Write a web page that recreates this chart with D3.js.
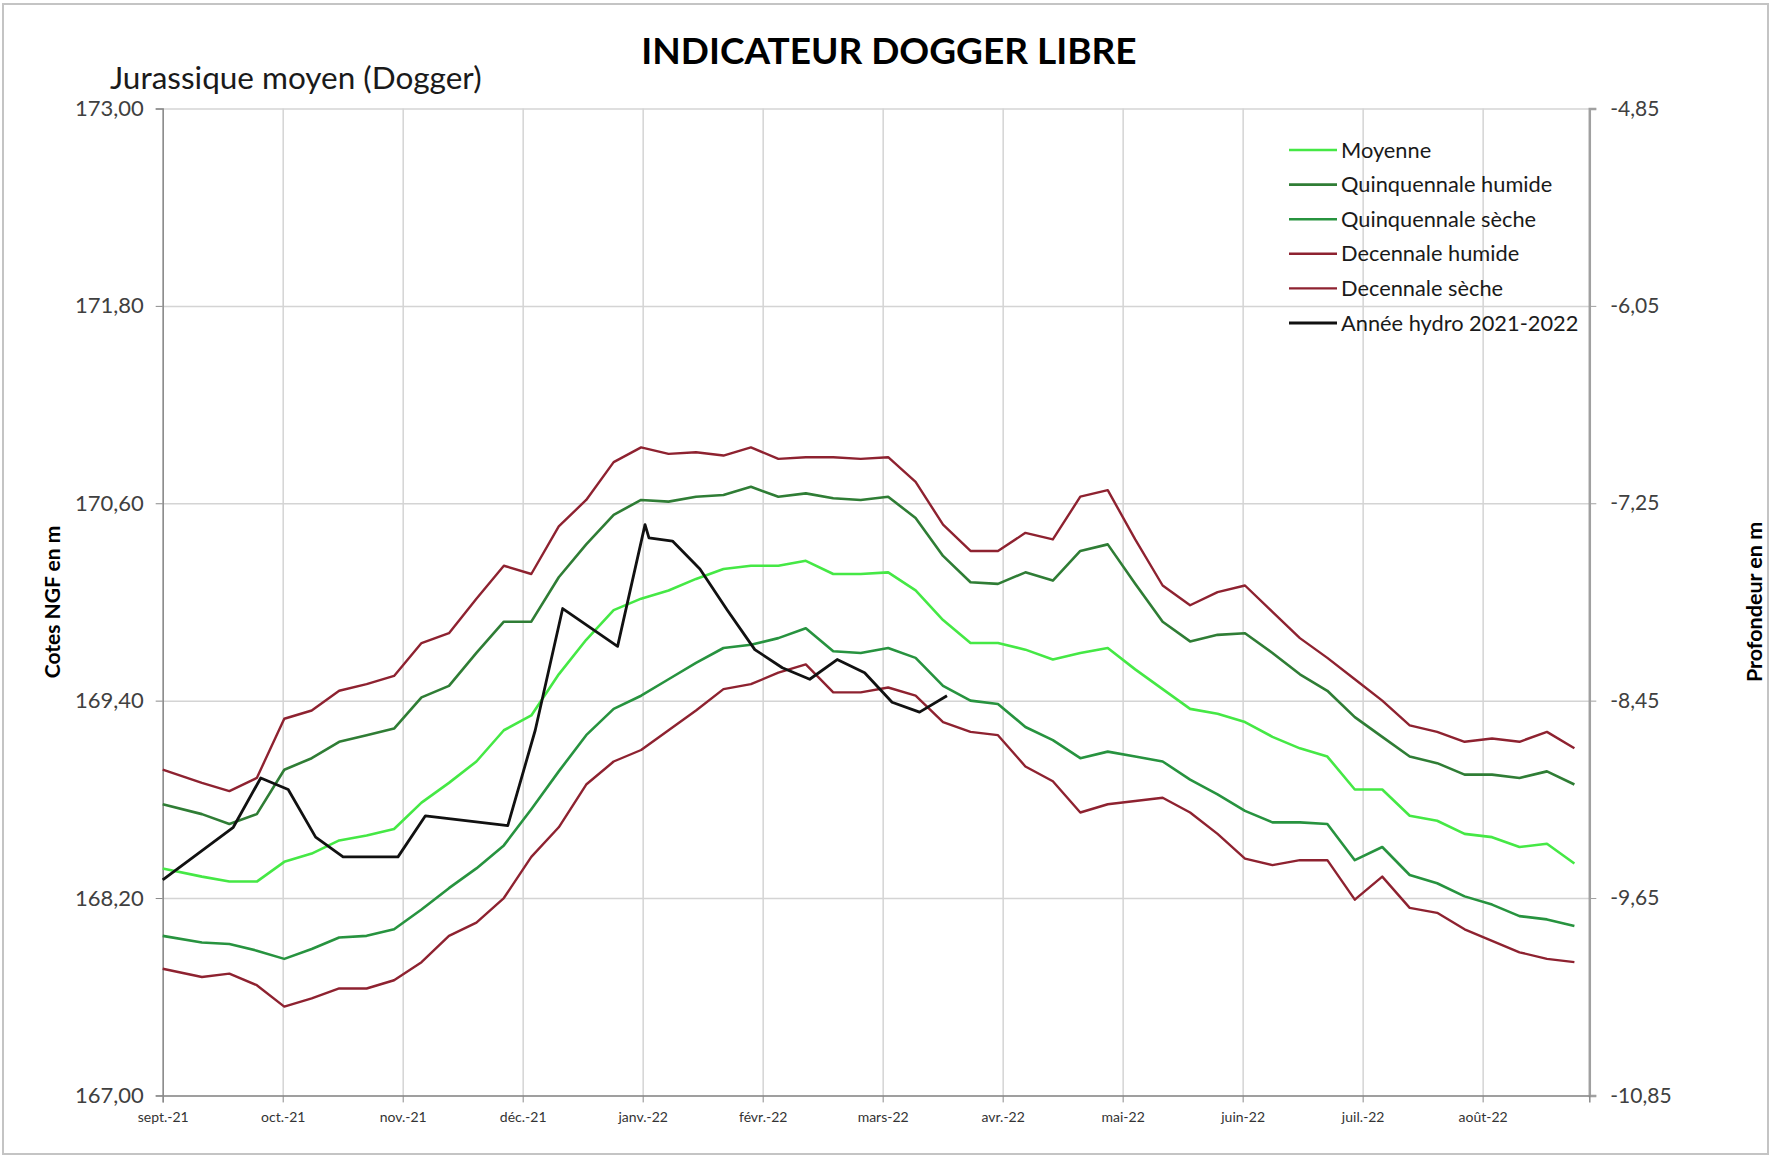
<!DOCTYPE html>
<html>
<head>
<meta charset="utf-8">
<script src="https://cdn.jsdelivr.net/npm/d3@7"></script>
<style>
  html, body { margin: 0; padding: 0; background: #ffffff; }
  svg { display: block; }
  text { font-family: Lato, "Open Sans", "DejaVu Sans", sans-serif; }
</style>
</head>
<body>
<svg id="chart" width="1771" height="1157"></svg>
<script>
// ---------- DATA ----------
const monthLabels = ["sept.-21", "oct.-21", "nov.-21", "déc.-21", "janv.-22", "févr.-22",
  "mars-22", "avr.-22", "mai-22", "juin-22", "juil.-22", "août-22"];
const leftTicks = [167.0, 168.2, 169.4, 170.6, 171.8, 173.0];
const rightTicks = [-10.85, -9.65, -8.45, -7.25, -6.05, -4.85];

// day offsets (from 1 Sept) of the statistical series points
const statDays = [0, 10, 17, 24, 31, 38, 45, 52, 59, 66, 73, 80, 87, 94, 101, 108, 115, 122,
  129, 136, 143, 150, 157, 164, 171, 178, 185, 192, 199, 206, 213, 220, 227, 234, 241, 248,
  255, 262, 269, 276, 283, 290, 297, 304, 311, 318, 325, 332, 339, 346, 353, 360];

const moyenne = [168.38, 168.33, 168.30, 168.30, 168.42, 168.47, 168.55, 168.58, 168.62, 168.78,
  168.90, 169.03, 169.22, 169.31, 169.56, 169.77, 169.95, 170.02, 170.07, 170.14, 170.20, 170.22,
  170.22, 170.25, 170.17, 170.17, 170.18, 170.07, 169.89, 169.75, 169.75, 169.71, 169.65, 169.69,
  169.72, 169.59, 169.47, 169.35, 169.32, 169.27, 169.18, 169.11, 169.06, 168.86, 168.86, 168.70,
  168.67, 168.59, 168.57, 168.51, 168.53, 168.41];
const quinqHumide = [168.77, 168.71, 168.65, 168.71, 168.98, 169.05, 169.15, 169.19, 169.23, 169.42,
  169.49, 169.69, 169.88, 169.88, 170.15, 170.35, 170.53, 170.62, 170.61, 170.64, 170.65, 170.70,
  170.64, 170.66, 170.63, 170.62, 170.64, 170.51, 170.28, 170.12, 170.11, 170.18, 170.13, 170.31,
  170.35, 170.11, 169.88, 169.76, 169.80, 169.81, 169.69, 169.56, 169.46, 169.30, 169.18, 169.06,
  169.02, 168.95, 168.95, 168.93, 168.97, 168.89];
const quinqSeche = [167.97, 167.93, 167.92, 167.88, 167.83, 167.89, 167.96, 167.97, 168.01, 168.13,
  168.26, 168.38, 168.52, 168.74, 168.97, 169.19, 169.35, 169.43, 169.53, 169.63, 169.72, 169.74,
  169.78, 169.84, 169.70, 169.69, 169.72, 169.66, 169.49, 169.40, 169.38, 169.24, 169.16, 169.05,
  169.09, 169.06, 169.03, 168.92, 168.83, 168.73, 168.66, 168.66, 168.65, 168.43, 168.51, 168.34,
  168.29, 168.21, 168.16, 168.09, 168.07, 168.03];
const decHumide = [168.98, 168.90, 168.85, 168.93, 169.29, 169.34, 169.46, 169.50, 169.55, 169.75,
  169.81, 170.02, 170.22, 170.17, 170.46, 170.62, 170.85, 170.94, 170.90, 170.91, 170.89, 170.94,
  170.87, 170.88, 170.88, 170.87, 170.88, 170.73, 170.47, 170.31, 170.31, 170.42, 170.38, 170.64,
  170.68, 170.38, 170.10, 169.98, 170.06, 170.10, 169.94, 169.78, 169.66, 169.53, 169.40, 169.25,
  169.21, 169.15, 169.17, 169.15, 169.21, 169.11];
const decSeche = [167.77, 167.72, 167.74, 167.67, 167.54, 167.59, 167.65, 167.65, 167.70, 167.81,
  167.97, 168.05, 168.20, 168.45, 168.63, 168.89, 169.03, 169.10, 169.22, 169.34, 169.47, 169.50,
  169.57, 169.62, 169.45, 169.45, 169.48, 169.43, 169.27, 169.21, 169.19, 169.00, 168.91, 168.72,
  168.77, 168.79, 168.81, 168.72, 168.59, 168.44, 168.40, 168.43, 168.43, 168.19, 168.33, 168.14,
  168.11, 168.01, 167.94, 167.87, 167.83, 167.81];

// Année hydro 2021-2022 (measured levels)
const hydroDays = [0, 18, 25, 32, 39, 46, 60, 67, 88, 95, 102, 116, 123, 124, 130, 137, 144, 151,
  158, 165, 172, 179, 186, 193, 200];
const hydroValues = [168.31, 168.63, 168.93, 168.86, 168.57, 168.45, 168.45, 168.70, 168.64, 169.22,
  169.96, 169.73, 170.47, 170.39, 170.37, 170.20, 169.95, 169.71, 169.60, 169.53, 169.65, 169.57,
  169.39, 169.33, 169.43];

const seriesNames = ["Moyenne", "Quinquennale humide", "Quinquennale sèche", "Decennale humide",
  "Decennale sèche", "Année hydro 2021-2022"];

// ---------- LAYOUT ----------
const monthLen = 30.6;          // axis month spacing, in days
const xMaxDay = 363.8;
const plot = { left: 162.7, right: 1589.3, top: 108.5, bottom: 1095.4 };

const svg = d3.select("#chart");
svg.append("rect").attr("x", 0).attr("y", 0).attr("width", 1771).attr("height", 1157).attr("fill", "#fff");
svg.append("rect").attr("x", 3).attr("y", 4).attr("width", 1765).attr("height", 1150)
  .attr("fill", "none").attr("stroke", "#c4c4c4").attr("stroke-width", 2);

const x = d3.scaleLinear().domain([0, xMaxDay]).range([plot.left, plot.right]);
const y = d3.scaleLinear().domain([167, 173]).range([plot.bottom, plot.top]);
const yR = d3.scaleLinear().domain([-10.85, -4.85]).range([plot.bottom, plot.top]);

const fmt = v => v.toFixed(2).replace(".", ",").replace("\u2212", "-");
const monthTicks = monthLabels.map((_, i) => i * monthLen);

// gridlines
svg.append("g").attr("transform", `translate(0,${plot.bottom})`)
  .call(d3.axisBottom(x).tickValues(monthTicks).tickSize(-(plot.bottom - plot.top)).tickFormat(""))
  .call(g => g.select(".domain").remove())
  .call(g => g.selectAll("line").attr("stroke", "#d4d4d4").attr("stroke-width", 1.5));
svg.append("g").attr("transform", `translate(${plot.left},0)`)
  .call(d3.axisLeft(y).tickValues(leftTicks).tickSize(-(plot.right - plot.left)).tickFormat(""))
  .call(g => g.select(".domain").remove())
  .call(g => g.selectAll("line").attr("stroke", "#d4d4d4").attr("stroke-width", 1.5));

// left axis
svg.append("g").attr("transform", `translate(${plot.left},0)`)
  .call(d3.axisLeft(y).tickValues(leftTicks).tickSize(7).tickPadding(12).tickFormat(fmt))
  .call(g => g.select(".domain").attr("stroke", "#8a8a8a").attr("stroke-width", 1.5))
  .call(g => g.selectAll("line").attr("stroke", "#8a8a8a"))
  .call(g => g.selectAll("text").attr("font-size", 22).attr("fill", "#404040")
    .attr("font-family", "Lato, sans-serif"));

// right axis
svg.append("g").attr("transform", `translate(${plot.right},0)`)
  .call(d3.axisRight(yR).tickValues(rightTicks).tickSize(7).tickPadding(14).tickFormat(fmt))
  .call(g => g.select(".domain").attr("stroke", "#a0a0a0").attr("stroke-width", 2.5))
  .call(g => g.selectAll("line").attr("stroke", "#a0a0a0"))
  .call(g => g.selectAll("text").attr("font-size", 21).attr("fill", "#404040")
    .attr("font-family", "Lato, sans-serif"));

// bottom axis
svg.append("g").attr("transform", `translate(0,${plot.bottom})`)
  .call(d3.axisBottom(x).tickValues(monthTicks).tickSize(7).tickPadding(10)
    .tickFormat((d, i) => monthLabels[i]))
  .call(g => g.select(".domain").attr("stroke", "#8a8a8a").attr("stroke-width", 1.5))
  .call(g => g.selectAll("line").attr("stroke", "#8a8a8a"))
  .call(g => g.selectAll("text").attr("font-size", 14).attr("fill", "#333")
    .attr("font-family", "Lato, sans-serif"));

// series
const colors = ["#45e845", "#2f7d35", "#27933f", "#8e2230", "#8e2230", "#111111"];
const widths = [2.6, 2.6, 2.6, 2.4, 2.4, 2.8];
const statSeries = [moyenne, quinqHumide, quinqSeche, decHumide, decSeche];
const line = d3.line().x(d => x(d[0])).y(d => y(d[1]));

const lines = svg.append("g");
[4, 3, 2, 1, 0].forEach(i => {
  lines.append("path")
    .datum(statDays.map((d, k) => [d, statSeries[i][k]]))
    .attr("d", line).attr("fill", "none")
    .attr("stroke", colors[i]).attr("stroke-width", widths[i])
    .attr("stroke-linejoin", "round");
});
lines.append("path")
  .datum(hydroDays.map((d, k) => [d, hydroValues[k]]))
  .attr("d", line).attr("fill", "none")
  .attr("stroke", colors[5]).attr("stroke-width", widths[5])
  .attr("stroke-linejoin", "round");

// legend
const lg = svg.append("g").attr("transform", "translate(1289,150)");
seriesNames.forEach((name, i) => {
  const row = lg.append("g").attr("transform", `translate(0,${i * 34.6})`);
  row.append("line").attr("x1", 0).attr("x2", 48).attr("y1", 0).attr("y2", 0)
    .attr("stroke", colors[i]).attr("stroke-width", widths[i]);
  row.append("text").attr("x", 52).attr("y", 0).attr("dy", "0.35em")
    .attr("font-size", 21.8).attr("fill", "#1a1a1a").text(name);
});

// titles
svg.append("text").attr("x", 889).attr("y", 64).attr("text-anchor", "middle")
  .attr("font-size", 37).attr("font-weight", 700).attr("fill", "#000")
  .text("INDICATEUR DOGGER LIBRE");
svg.append("text").attr("x", 110).attr("y", 89)
  .attr("font-size", 31.5).attr("fill", "#1a1a1a")
  .text("Jurassique moyen (Dogger)");
svg.append("text").attr("transform", `translate(60,${(plot.top + plot.bottom) / 2}) rotate(-90)`)
  .attr("text-anchor", "middle").attr("font-size", 21).attr("font-weight", 700).attr("fill", "#000")
  .text("Cotes NGF en m");
svg.append("text").attr("transform", `translate(1762,${(plot.top + plot.bottom) / 2}) rotate(-90)`)
  .attr("text-anchor", "middle").attr("font-size", 21.5).attr("font-weight", 700).attr("fill", "#000")
  .text("Profondeur en m");
</script>
</body>
</html>
